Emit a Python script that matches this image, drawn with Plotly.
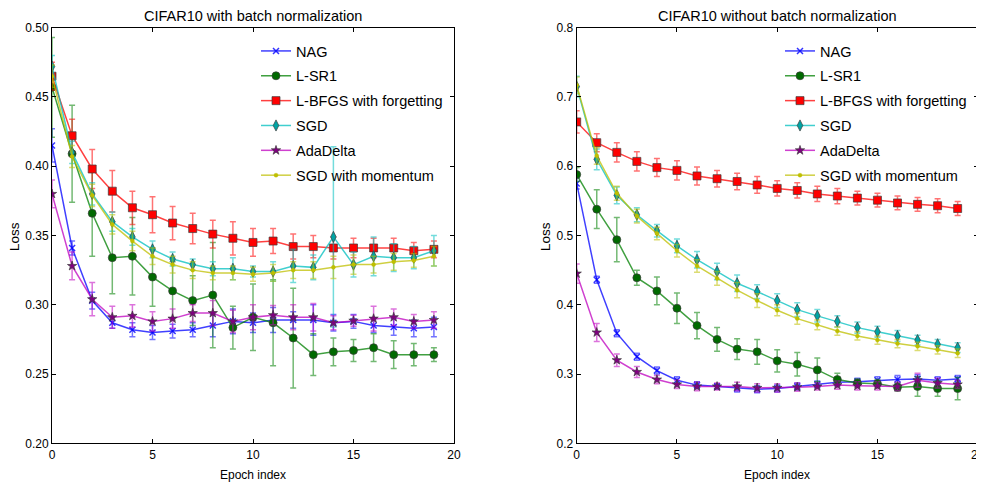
import plotly.graph_objects as go

epochs = list(range(20))

# ---- Left panel: CIFAR10 with batch normalization ----
bn_nag = [0.415, 0.341, 0.303, 0.287, 0.282, 0.280, 0.281, 0.282, 0.285, 0.288,
          0.287, 0.289, 0.289, 0.289, 0.287, 0.288, 0.285, 0.284, 0.283, 0.284]
bn_nag_err = [0.012, 0.005, 0.006, 0.004, 0.005, 0.005, 0.005, 0.005, 0.008, 0.009,
              0.007, 0.009, 0.006, 0.011, 0.006, 0.005, 0.005, 0.006, 0.006, 0.007]
bn_lsr1 = [0.457, 0.409, 0.366, 0.334, 0.335, 0.320, 0.310, 0.303, 0.307, 0.2835,
           0.291, 0.287, 0.276, 0.264, 0.266, 0.267, 0.269, 0.264, 0.264, 0.264]
bn_lsr1_err = [0.036, 0.035, 0.031, 0.026, 0.028, 0.021, 0.021, 0.018, 0.038, 0.0155,
               0.024, 0.031, 0.036, 0.015, 0.010, 0.008, 0.010, 0.010, 0.008, 0.005]
bn_lbfgs = [0.465, 0.422, 0.398, 0.382, 0.370, 0.365, 0.359, 0.355, 0.351, 0.348,
            0.345, 0.346, 0.342, 0.342, 0.341, 0.341, 0.341, 0.341, 0.339, 0.340]
bn_lbfgs_err = [0.010, 0.012, 0.014, 0.015, 0.012, 0.013, 0.012, 0.011, 0.010, 0.012,
                0.010, 0.009, 0.009, 0.008, 0.008, 0.007, 0.007, 0.007, 0.006, 0.006]
bn_sgd = [0.472, 0.410, 0.380, 0.360, 0.349, 0.340, 0.333, 0.329, 0.326, 0.326,
          0.324, 0.324, 0.328, 0.327, 0.349, 0.329, 0.335, 0.334, 0.334, 0.339]
bn_sgd_err = [0.008, 0.008, 0.008, 0.007, 0.006, 0.006, 0.005, 0.004, 0.005, 0.008,
              0.004, 0.007, 0.012, 0.009, 0.065, 0.009, 0.014, 0.010, 0.008, 0.011]
bn_ada = [0.380, 0.328, 0.304, 0.291, 0.292, 0.288, 0.290, 0.294, 0.294, 0.288,
          0.291, 0.2925, 0.291, 0.291, 0.287, 0.2885, 0.290, 0.291, 0.288, 0.289]
bn_ada_err = [0.010, 0.010, 0.012, 0.008, 0.008, 0.007, 0.007, 0.006, 0.009, 0.008,
              0.009, 0.007, 0.009, 0.010, 0.005, 0.004, 0.009, 0.006, 0.005, 0.006]
bn_mom = [0.465, 0.407, 0.379, 0.358, 0.346, 0.335, 0.329, 0.325, 0.323, 0.323,
          0.322, 0.323, 0.325, 0.325, 0.327, 0.329, 0.329, 0.331, 0.332, 0.335]
bn_mom_err = [0.008, 0.008, 0.008, 0.007, 0.007, 0.006, 0.006, 0.006, 0.005, 0.005,
              0.005, 0.006, 0.006, 0.006, 0.008, 0.007, 0.006, 0.006, 0.005, 0.007]

# ---- Right panel: CIFAR10 without batch normalization ----
nb_nag = [0.575, 0.436, 0.359, 0.325, 0.305, 0.291, 0.284, 0.282, 0.279, 0.278,
          0.279, 0.282, 0.285, 0.288, 0.289, 0.291, 0.292, 0.293, 0.291, 0.293]
nb_nag_err = [0.008, 0.005, 0.005, 0.005, 0.005, 0.005, 0.005, 0.004, 0.005, 0.005,
              0.005, 0.005, 0.005, 0.005, 0.005, 0.005, 0.006, 0.006, 0.005, 0.005]
nb_lsr1 = [0.588, 0.538, 0.494, 0.439, 0.420, 0.395, 0.370, 0.350, 0.336, 0.332,
           0.319, 0.314, 0.306, 0.292, 0.287, 0.286, 0.281, 0.282, 0.279, 0.279]
nb_lsr1_err = [0.010, 0.028, 0.032, 0.011, 0.020, 0.022, 0.019, 0.017, 0.015, 0.018,
               0.016, 0.017, 0.017, 0.009, 0.006, 0.006, 0.006, 0.014, 0.011, 0.016]
nb_lbfgs = [0.664, 0.634, 0.620, 0.607, 0.598, 0.594, 0.586, 0.582, 0.578, 0.573,
            0.568, 0.565, 0.560, 0.557, 0.554, 0.551, 0.547, 0.545, 0.543, 0.539]
nb_lbfgs_err = [0.016, 0.013, 0.014, 0.014, 0.013, 0.014, 0.013, 0.012, 0.012, 0.012,
                0.011, 0.011, 0.011, 0.011, 0.010, 0.010, 0.010, 0.010, 0.010, 0.010]
nb_sgd = [0.715, 0.610, 0.558, 0.530, 0.507, 0.485, 0.465, 0.448, 0.431, 0.419,
          0.406, 0.393, 0.384, 0.376, 0.367, 0.361, 0.355, 0.349, 0.343, 0.338]
nb_sgd_err = [0.015, 0.015, 0.012, 0.010, 0.009, 0.010, 0.012, 0.012, 0.012, 0.010,
              0.010, 0.010, 0.009, 0.008, 0.008, 0.008, 0.008, 0.007, 0.007, 0.007]
nb_ada = [0.445, 0.360, 0.320, 0.303, 0.292, 0.285, 0.282, 0.282, 0.282, 0.280,
          0.280, 0.281, 0.282, 0.284, 0.283, 0.283, 0.282, 0.291, 0.287, 0.285]
nb_ada_err = [0.014, 0.013, 0.009, 0.008, 0.006, 0.006, 0.006, 0.005, 0.006, 0.006,
              0.006, 0.006, 0.005, 0.006, 0.006, 0.006, 0.006, 0.010, 0.007, 0.006]
nb_mom = [0.717, 0.615, 0.561, 0.528, 0.503, 0.478, 0.456, 0.438, 0.421, 0.406,
          0.392, 0.380, 0.371, 0.362, 0.355, 0.349, 0.344, 0.340, 0.335, 0.330]
nb_mom_err = [0.012, 0.012, 0.010, 0.010, 0.009, 0.009, 0.009, 0.010, 0.011, 0.010,
              0.008, 0.008, 0.007, 0.006, 0.006, 0.006, 0.006, 0.006, 0.006, 0.006]

names = ["NAG", "L-SR1", "L-BFGS with forgetting", "SGD", "AdaDelta", "SGD with momentum"]
left_series = [(bn_nag, bn_nag_err), (bn_lsr1, bn_lsr1_err), (bn_lbfgs, bn_lbfgs_err),
               (bn_sgd, bn_sgd_err), (bn_ada, bn_ada_err), (bn_mom, bn_mom_err)]
right_series = [(nb_nag, nb_nag_err), (nb_lsr1, nb_lsr1_err), (nb_lbfgs, nb_lbfgs_err),
                (nb_sgd, nb_sgd_err), (nb_ada, nb_ada_err), (nb_mom, nb_mom_err)]

# style: (rgb, marker face, symbol, size)
styles = [
    ((0, 0, 255), "#2020ff", "x-thin", 6),
    ((0, 128, 0), "#006a00", "circle", 8),
    ((255, 0, 0), "#ff0000", "square", 8),
    ((0, 191, 191), "#00a4a4", "diamond-tall", 8),
    ((191, 0, 191), "#800080", "star", 7),
    ((191, 191, 0), "#bfbf00", "circle", 4),
]

FONT = "Liberation Sans, Arial, sans-serif"

# page places the figure 8 px from the top-left corner (body margin)
OFF = 8
W, H = 984 - OFF, 484 - OFF
def px(x):
    return (x - OFF) / W
def py(y):
    return 1 - (y - OFF) / H

def rgba(c, a):
    return "rgba(%d,%d,%d,%.2f)" % (c[0], c[1], c[2], a)

fig = go.Figure()
for panel, series, xa, ya, leg in [(0, left_series, "x", "y", "legend"),
                                   (1, right_series, "x2", "y2", "legend2")]:
    for i, (name, (vals, errs), (c, face, sym, sz)) in enumerate(zip(names, series, styles)):
        if sym == "x-thin":
            mline = dict(width=1.5, color=rgba(c, 0.8))
        elif sz <= 4:
            mline = dict(width=0.5, color=rgba(c, 0.8))
        else:
            mline = dict(width=1, color="rgba(60,60,60,0.7)")
        fig.add_trace(go.Scatter(
            x=epochs, y=vals, name=name, mode="lines+markers",
            xaxis=xa, yaxis=ya, legend=leg, legendgroup="p%d_%d" % (panel, i),
            line=dict(color=rgba(c, 0.75), width=1.5),
            marker=dict(symbol=sym, size=sz, color=face, line=mline),
            error_y=dict(type="data", array=errs, visible=True,
                         color=rgba(c, 0.55), thickness=1.5, width=3),
        ))

axis_common = dict(showline=True, linecolor="black", linewidth=1, mirror="allticks",
                   ticks="inside", ticklen=4, tickcolor="black", showgrid=False,
                   zeroline=False, automargin=False, ticklabeloverflow="allow",
                   tickfont=dict(family=FONT, size=12, color="black"))

legend_common = dict(xanchor="left", yanchor="top", bgcolor="rgba(0,0,0,0)", borderwidth=0,
                     tracegroupgap=3, font=dict(family=FONT, size=14.5, color="black"))

ann_font = lambda s: dict(family=FONT, size=s, color="black")

fig.update_layout(
    width=W, height=H, margin=dict(l=0, r=0, t=0, b=0, autoexpand=False),
    paper_bgcolor="white", plot_bgcolor="white",
    font=dict(family=FONT, color="black"),
    xaxis=dict(domain=[px(52), px(454)], range=[0, 20], tickvals=[0, 5, 10, 15, 20],
               anchor="y", **axis_common),
    yaxis=dict(domain=[py(443.3), py(27.7)], range=[0.20, 0.50],
               tickvals=[0.20, 0.25, 0.30, 0.35, 0.40, 0.45, 0.50], tickformat=".2f",
               anchor="x", **axis_common),
    xaxis2=dict(domain=[px(576.7), px(977.7)], range=[0, 20], tickvals=[0, 5, 10, 15, 20],
                anchor="y2", **axis_common),
    yaxis2=dict(domain=[py(443.3), py(27.7)], range=[0.2, 0.8],
                tickvals=[0.2, 0.3, 0.4, 0.5, 0.6, 0.7, 0.8], tickformat=".1f",
                anchor="x2", **axis_common),
    legend=dict(x=px(256), y=py(35), **legend_common),
    legend2=dict(x=px(780), y=py(35), **legend_common),
    annotations=[
        dict(text="CIFAR10 with batch normalization", x=px(253), y=py(16),
             xref="paper", yref="paper", showarrow=False, xanchor="center", yanchor="middle",
             font=ann_font(14.5)),
        dict(text="CIFAR10 without batch normalization", x=px(777), y=py(16),
             xref="paper", yref="paper", showarrow=False, xanchor="center", yanchor="middle",
             font=ann_font(14.5)),
        dict(text="Epoch index", x=px(253), y=py(475),
             xref="paper", yref="paper", showarrow=False, xanchor="center", yanchor="middle",
             font=ann_font(12)),
        dict(text="Epoch index", x=px(777), y=py(475),
             xref="paper", yref="paper", showarrow=False, xanchor="center", yanchor="middle",
             font=ann_font(12)),
        dict(text="Loss", x=px(14), y=py(237), textangle=-90,
             xref="paper", yref="paper", showarrow=False, xanchor="center", yanchor="middle",
             font=ann_font(13.5)),
        dict(text="Loss", x=px(545), y=py(237), textangle=-90,
             xref="paper", yref="paper", showarrow=False, xanchor="center", yanchor="middle",
             font=ann_font(13.5)),
    ],
)

fig.write_html("out.html")
